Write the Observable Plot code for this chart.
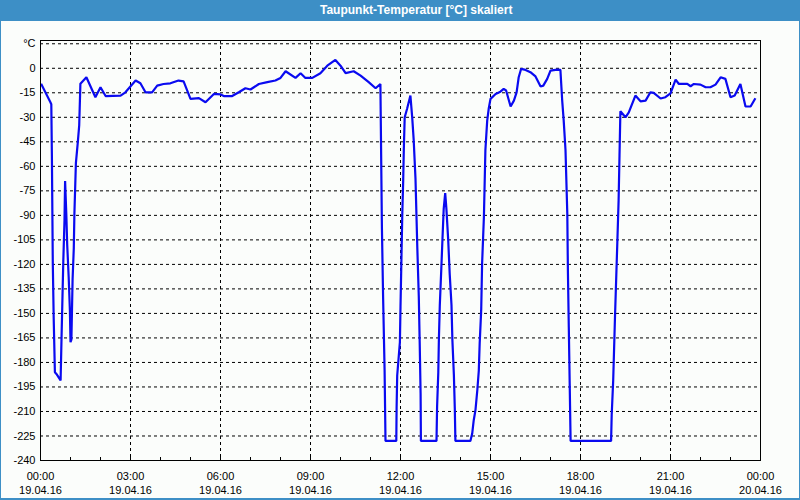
<!DOCTYPE html>
<html>
<head>
<meta charset="utf-8">
<script src="https://cdn.jsdelivr.net/npm/d3@7"></script>
<script src="https://cdn.jsdelivr.net/npm/@observablehq/plot@0.6"></script>
<style>
  html, body { margin: 0; padding: 0; background: #ffffff; }
  #wrap { position: relative; width: 800px; height: 500px; box-sizing: border-box;
          border-left: 1px solid #3d8fc6; border-right: 1px solid #3d8fc6; border-bottom: 2px solid #3d8fc6;
          background: #fbfdfb; overflow: hidden; }
  #title { height: 21px; background: #3d8fc6; color: #ffffff; font: bold 12px "Liberation Sans", Arial, sans-serif;
           line-height: 21px; position: relative; }
  #title span { position: absolute; left: 319px; top: 0; }
  #chart svg { display: block; }
</style>
</head>
<body>
<div id="wrap">
  <div id="title"><span>Taupunkt-Temperatur [°C] skaliert</span></div>
  <div id="chart"></div>
</div>
<script>
// time of day in hours (19.04.16), dew point in °C
const hours = [0.02,0.33,0.36,0.38,0.41,0.44,0.48,0.53,0.67,0.70,0.73,0.76,0.80,0.82,0.86,0.89,0.94,0.98,1.00,1.03,1.07,1.11,1.13,1.18,1.24,1.29,1.33,1.53,1.83,2.00,2.17,2.67,2.83,3.17,3.33,3.50,3.72,3.89,4.10,4.33,4.60,4.77,5.00,5.28,5.50,5.78,6.00,6.11,6.39,6.61,6.83,7.00,7.28,7.56,7.83,8.00,8.17,8.50,8.67,8.83,9.06,9.33,9.56,9.83,10.00,10.17,10.44,10.67,10.94,11.17,11.33,11.38,11.42,11.47,11.50,11.86,11.87,11.89,11.98,12.00,12.02,12.06,12.09,12.11,12.14,12.22,12.33,12.39,12.44,12.50,12.56,12.61,12.64,12.67,12.68,13.20,13.22,13.26,13.28,13.31,13.36,13.40,13.44,13.49,13.53,13.59,13.64,13.70,13.73,13.78,13.81,13.83,14.33,14.39,14.44,14.50,14.56,14.61,14.64,14.69,14.72,14.78,14.83,14.89,14.94,15.00,15.17,15.33,15.44,15.52,15.67,15.78,15.87,15.94,16.02,16.17,16.33,16.50,16.67,16.76,16.89,17.00,17.22,17.33,17.39,17.44,17.50,17.56,17.58,17.61,17.64,17.67,19.02,19.04,19.09,19.15,19.22,19.27,19.30,19.33,19.50,19.61,19.83,20.00,20.17,20.33,20.44,20.67,20.83,21.00,21.17,21.28,21.56,21.67,21.78,22.00,22.17,22.33,22.50,22.67,22.83,23.00,23.14,23.33,23.50,23.67,23.83];
const dewpoint = [-9.5,-20.8,-22,-54,-119.5,-153,-186,-187,-191,-166,-142,-118,-93,-69,-89,-108,-128,-148,-167.6,-166,-129,-110,-89,-58,-46,-35,-9.4,-5.5,-17.7,-11.6,-17,-16.7,-14.7,-7.5,-9.2,-14.7,-14.7,-10.6,-9.6,-9.2,-7.5,-8,-18.7,-18.3,-20.8,-15.7,-16,-17,-17,-14.7,-12.2,-13,-9.6,-8.5,-7.5,-5.9,-1.8,-5.9,-3,-5.9,-5.9,-3,1.6,5.1,1.6,-3,-1.8,-4.5,-8.5,-12.2,-9.6,-97,-140,-185,-228,-228,-208,-188,-167.6,-146,-127,-89,-68.7,-50,-30,-24.8,-16.7,-30,-44,-67.7,-109.5,-140,-168,-199,-228,-228,-207,-186,-165.5,-145,-122.7,-104,-86,-76.4,-86,-105,-125.8,-145,-166.5,-188,-208,-228,-228,-223.5,-215.5,-209,-197,-185,-168,-148,-119.6,-91,-50,-32,-24.8,-18.7,-15.7,-14.3,-12.6,-13.6,-23.4,-19.8,-14.7,-5.5,-0.4,-1,-2.4,-5,-11.2,-10.6,-6.5,-1.4,-0.8,-1,-19.8,-32,-50,-89,-123.7,-158.4,-193,-228,-228,-212,-191,-152,-111,-81,-53.5,-26.3,-30,-27,-16.7,-20.2,-19.8,-14.7,-15,-18.5,-17.7,-15.3,-6.9,-9.6,-9.6,-11,-9.6,-10,-11.6,-11.6,-10,-5.5,-6.5,-17.7,-16.7,-9.6,-23.4,-23.4,-18.3];

const xTicks = [0, 3, 6, 9, 12, 15, 18, 21, 24];
const xTimeLabels = ["00:00","03:00","06:00","09:00","12:00","15:00","18:00","21:00","00:00"];
const xDateLabels = ["19.04.16","19.04.16","19.04.16","19.04.16","19.04.16","19.04.16","19.04.16","19.04.16","20.04.16"];
const xGrid = [3, 6, 9, 12, 15, 18, 21];
const xMinor = d3.range(0, 25, 1);
const yTicks = d3.range(-240, 16, 15);
const yUnitLabel = "°C";

const data = hours.map((h, i) => ({h, v: dewpoint[i]}));

const plot = Plot.plot({
  width: 798,
  height: 478,
  marginLeft: 39,
  marginRight: 39,
  marginTop: 19,
  marginBottom: 39,
  style: { fontFamily: "'Liberation Sans', Arial, sans-serif", fontSize: "11px", background: "transparent", color: "#000" },
  x: { domain: [0, 24] },
  y: { domain: [-240, 17] },
  marks: [
    Plot.ruleY(yTicks, { stroke: "#000", strokeDasharray: "3,3", strokeWidth: 1 }),
    Plot.ruleX(xGrid, { stroke: "#000", strokeDasharray: "3,3", strokeWidth: 1 }),
    Plot.tickX(xMinor, { x: d => d, stroke: "#000", insetTop: 417 }),
    Plot.line(data, { x: "h", y: "v", stroke: "#0a0af0", strokeWidth: 2.2, strokeLinejoin: "miter", strokeLinecap: "butt" }),
    Plot.frame({ stroke: "#000", strokeWidth: 1 }),
    Plot.axisY({ ticks: yTicks, tickSize: 0, tickPadding: 5, tickFormat: d => d === 15 ? yUnitLabel : String(d), label: null }),
    Plot.axisX({ ticks: xTicks, tickSize: 0, tickPadding: 9, lineHeight: 1.3,
                 tickFormat: d => xTimeLabels[xTicks.indexOf(d)] + "\n" + xDateLabels[xTicks.indexOf(d)], label: null })
  ]
});
document.getElementById("chart").appendChild(plot);
</script>
</body>
</html>
